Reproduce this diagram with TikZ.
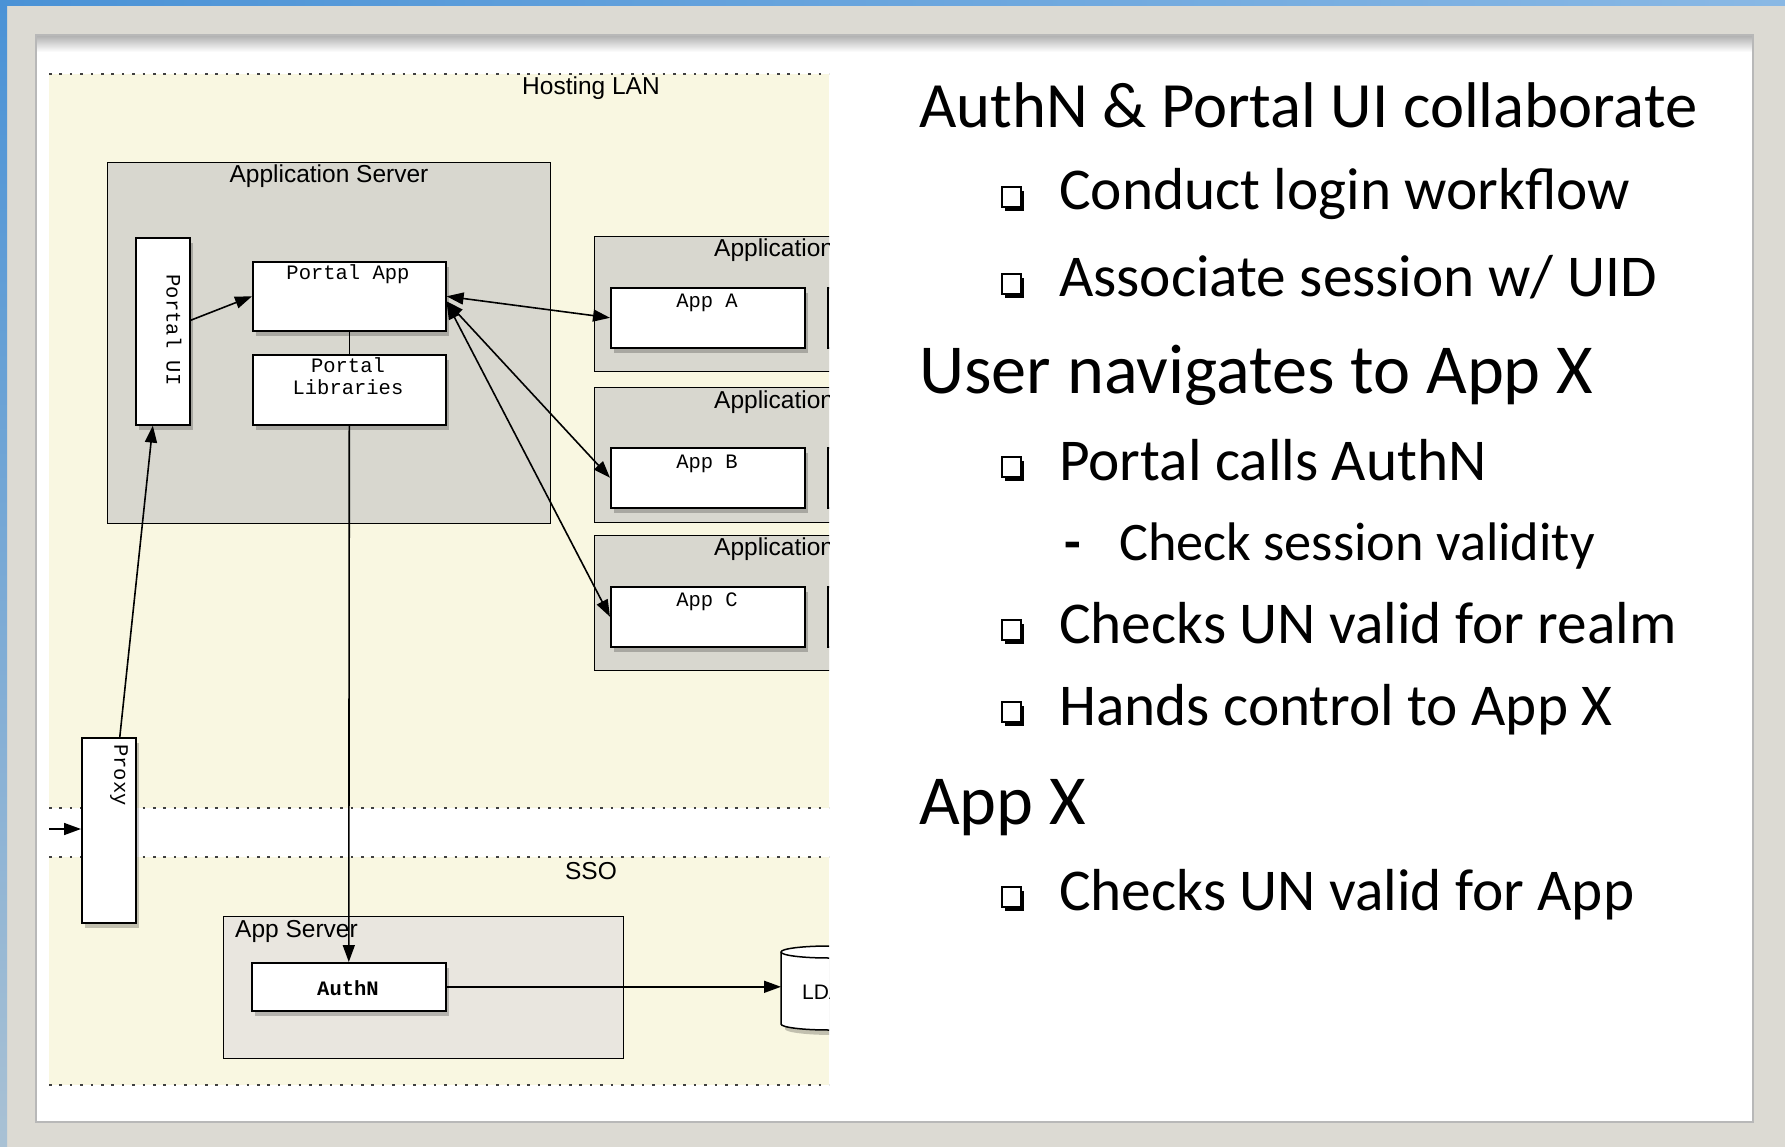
\documentclass[tikz,border=0pt]{standalone}
\usepackage{fontspec}
\setmainfont{Carlito}
\newfontfamily\dsans{Liberation Sans}
\newfontfamily\dmono{Liberation Mono}
\usetikzlibrary{shadows,arrows.meta,calc}
\definecolor{framegray}{HTML}{DCDAD3}
\definecolor{lanyellow}{HTML}{F9F7E1}
\definecolor{srvgray}{HTML}{D8D7CF}
\definecolor{ssogray}{HTML}{E9E6DF}
\definecolor{winblue}{HTML}{4A92D6}
\newcommand\sqbullet[2]{%
  \fill[black] (#1+3,#2-19) rectangle (#1+22,#2+1);
  \filldraw[fill=white,draw=black,line width=1.4pt] (#1,#2-23) rectangle (#1+19,#2-3);}
\begin{document}
\begin{tikzpicture}[x=1pt,y=-1pt,
  >={Triangle[length=17pt,width=12pt]},
  wbox/.style={draw=black,line width=1.6pt,fill=white,inner sep=0pt,anchor=north west,
     drop shadow={shadow xshift=3pt,shadow yshift=-5pt,opacity=0.22,fill=black}},
  gbox/.style={draw=black,line width=1.4pt,fill=srvgray,inner sep=0pt,anchor=north west},
  conn/.style={line width=1.6pt},
  dotline/.style={line width=2pt,dash pattern=on 2.5pt off 7.9pt,color=black!75},
  mono/.style={font=\dmono\fontsize{20.5}{24}\selectfont,inner sep=0pt},
  dlabel/.style={font=\dsans\fontsize{24.5}{28}\selectfont,inner sep=0pt},
  head/.style={font=\fontsize{64.6}{72}\selectfont,anchor=base west,inner sep=0pt},
  bighead/.style={font=\fontsize{70.3}{78}\selectfont,anchor=base west,inner sep=0pt},
  item/.style={font=\fontsize{59.3}{66}\selectfont,anchor=base west,inner sep=0pt},
  subitem/.style={font=\fontsize{54.3}{60}\selectfont,anchor=base west,inner sep=0pt}]

\useasboundingbox (0,0) rectangle (1785,1147);
% window frame
\fill[framegray] (0,0) rectangle (1785,1147);
\shade[left color=winblue,right color=winblue!65!white] (0,0) rectangle (1785,6);
\shade[top color=winblue,bottom color=winblue!35!framegray] (0,0) rectangle (7,1147);
\fill[white] (36,35) rectangle (1753,1122);
\shade[top color=black!30,bottom color=white] (37,36) rectangle (1752,52);
\draw[black!28,line width=1.5pt] (36,35) rectangle (1753,1122);

% ---------------- diagram ----------------
\begin{scope}
\clip (49,55) rectangle (829,1100);
\fill[lanyellow] (49,74) rectangle (829,808);
\fill[white] (49,808) rectangle (829,857);
\fill[lanyellow] (49,857) rectangle (829,1085);
\draw[dotline] (49,74) -- (829,74);
\draw[dotline] (49,808) -- (829,808);
\draw[dotline] (49,857) -- (829,857);
\draw[dotline] (49,1085) -- (829,1085);
\node[dlabel,anchor=base] (lan) at (591,95) {Hosting LAN};
\node[dlabel,anchor=base] (sso) at (591,879) {SSO};

% Application Server
\node[gbox,minimum width=443pt,minimum height=361pt] (appserver) at (107,162) {};
\node[dlabel,anchor=base] (appserverlbl) at (329,183) {Application Server};
\node[wbox,minimum width=54pt,minimum height=187pt] (portalui) at (135,237) {};
\node[mono,rotate=-90] (portaluitxt) at (174,330) {Portal UI};
\node[wbox,minimum width=193pt,minimum height=69pt] (portalapp) at (252,261) {};
\node[mono,anchor=base] (portalapptxt) at (348,280) {Portal App};
\node[wbox,minimum width=193pt,minimum height=70pt] (portallibs) at (252,354) {};
\node[mono,anchor=base] (portallibstxta) at (348,373) {Portal};
\node[mono,anchor=base] (portallibstxtb) at (348,395) {Libraries};

% Application boxes (clipped at the right)
\node[gbox,minimum width=306pt,minimum height=135pt] (srva) at (594,236) {};
\node[dlabel,anchor=base west] (srvalbl) at (714,257) {Application Server};
\node[wbox,minimum width=194pt,minimum height=60pt] (appa) at (610,287) {};
\node[mono,anchor=base] (appatxt) at (707,308) {App A};
\node[wbox,minimum width=80pt,minimum height=60pt] (appa2) at (827,287) {};

\node[gbox,minimum width=306pt,minimum height=135pt] (srvb) at (594,387) {};
\node[dlabel,anchor=base west] (srvblbl) at (714,408) {Application Server};
\node[wbox,minimum width=194pt,minimum height=60pt] (appb) at (610,447) {};
\node[mono,anchor=base] (appbtxt) at (707,468) {App B};
\node[wbox,minimum width=80pt,minimum height=60pt] (appb2) at (827,447) {};

\node[gbox,minimum width=306pt,minimum height=135pt] (srvc) at (594,535) {};
\node[dlabel,anchor=base west] (srvclbl) at (714,555) {Application Server};
\node[wbox,minimum width=194pt,minimum height=60pt] (appc) at (610,586) {};
\node[mono,anchor=base] (appctxt) at (707,606) {App C};
\node[wbox,minimum width=80pt,minimum height=60pt] (appc2) at (827,586) {};

% Proxy
\node[wbox,minimum width=54pt,minimum height=185pt] (proxy) at (81,737) {};
\node[mono,rotate=-90] (proxytxt) at (119,775) {Proxy};

% SSO App Server
\node[gbox,fill=ssogray,minimum width=400pt,minimum height=142pt] (ssoserver) at (223,916) {};
\node[dlabel,anchor=base west] (ssoserverlbl) at (235,937) {App Server};
\node[wbox,minimum width=194pt,minimum height=48pt] (authn) at (251,962) {};
\node[mono,anchor=base,font=\dmono\bfseries\fontsize{20.5}{24}\selectfont] (authntxt) at (348,995) {AuthN};

% LDAP cylinder
\node[inner sep=0pt,minimum width=96pt,minimum height=84pt,anchor=north west] (ldap) at (781,946) {};
\fill[black,opacity=0.22] (785,957) -- (785,1029) arc[start angle=180,end angle=0,x radius=48,y radius=6] -- (881,957) -- cycle;
\filldraw[fill=white,draw=black,line width=1.5pt] (781,952) -- (781,1024) arc[start angle=180,end angle=0,x radius=48,y radius=6] -- (877,952) arc[start angle=0,end angle=-180,x radius=48,y radius=6] -- cycle;
\draw[line width=1.5pt] (781,952) arc[start angle=180,end angle=0,x radius=48,y radius=6];
\node[dlabel,anchor=base west,font=\dsans\fontsize{21}{24}\selectfont] (ldaptxt) at (802,999) {LDAP};

% connectors
\coordinate (inlet) at (49,829);
\draw[conn,->] (inlet) -- (inlet -| proxy.west);
\draw[conn,->] ($(proxy.north)+(11,0)$) -- ($(portalui.south)+(-10,0)$);
\draw[conn,->] ($(portalui.east)+(0,-11)$) -- (portalapp.west);
\draw[conn] (portalapp.south) -- (portallibs.north);
\draw[conn,<->] (portalapp.east) -- (appa.west);
\draw[conn,<->] ($(portalapp.east)+(0,5)$) -- (appb.west);
\draw[conn,<->] ($(portalapp.east)+(0,6)$) -- (appc.west);
\draw[conn,->] (portallibs.south) -- (authn.north);
\draw[conn,->] (authn.east) -- (authn.east -| ldap.west);
\end{scope}

% ---------------- text ----------------
\node[head] (t1) at (919,128) {AuthN \& Portal UI collaborate};
\sqbullet{1002}{210}
\node[item] (t2) at (1059,210) {Conduct login workflow};
\sqbullet{1002}{297}
\node[item] (t3) at (1059,297) {Associate session w/ UID};
\node[bighead] (t4) at (919,393) {User navigates to App X};
\sqbullet{1002}{480}
\node[item] (t5) at (1059,480) {Portal calls AuthN};
\node[subitem,font=\bfseries\fontsize{54.3}{60}\selectfont] (t6dash) at (1064,560) {-};
\node[subitem] (t6) at (1119,560) {Check session validity};
\sqbullet{1002}{643}
\node[item] (t7) at (1059,643) {Checks UN valid for realm};
\sqbullet{1002}{725}
\node[item] (t8) at (1059,725) {Hands control to App X};
\node[bighead] (t9) at (919,824) {App X};
\sqbullet{1002}{910}
\node[item] (t10) at (1059,910) {Checks UN valid for App};
\end{tikzpicture}
\end{document}
